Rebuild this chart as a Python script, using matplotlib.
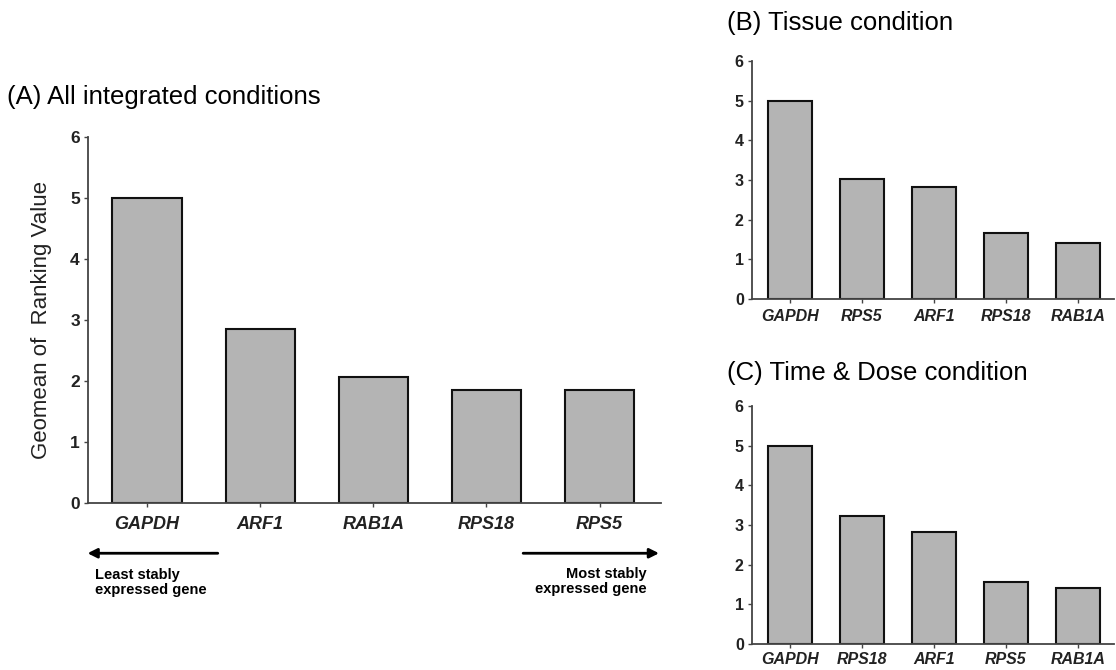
import matplotlib.pyplot as plt

# panel A: all integrated conditions
genes_a = ['GAPDH', 'ARF1', 'RAB1A', 'RPS18', 'RPS5']
vals_a = [5.0, 2.85, 2.07, 1.86, 1.86]

# panel B: tissue condition
genes_b = ['GAPDH', 'RPS5', 'ARF1', 'RPS18', 'RAB1A']
vals_b = [5.0, 3.01, 2.82, 1.67, 1.41]

# panel C: time & dose condition
genes_c = ['GAPDH', 'RPS18', 'ARF1', 'RPS5', 'RAB1A']
vals_c = [5.0, 3.23, 2.82, 1.55, 1.41]

plt.rcParams['font.family'] = ['Liberation Sans', 'DejaVu Sans']

bar_color = '#b4b4b4'
axis_color = '#444444'


def draw_bars(ax, genes, vals, tick_size, label_size, pad):
    x = range(len(genes))
    ax.bar(x, vals, width=0.61, color=bar_color, edgecolor='#111111', linewidth=1.5)
    ax.set_ylim(0, 6)
    ax.set_xlim(-0.52, len(genes) - 0.5)
    ax.set_yticks(range(7))
    ax.set_xticks(list(x))
    ax.set_xticklabels(genes, fontsize=label_size, fontweight='bold', style='italic', color='#222222')
    for lab in ax.get_yticklabels():
        lab.set_fontsize(tick_size)
        lab.set_fontweight('bold')
        lab.set_color('#222222')
    for side in ['top', 'right']:
        ax.spines[side].set_visible(False)
    for side in ['left', 'bottom']:
        ax.spines[side].set_color(axis_color)
        ax.spines[side].set_linewidth(1.3)
    ax.tick_params(axis='both', length=3, width=1, color=axis_color, pad=3)
    ax.tick_params(axis='x', pad=pad)


fig = plt.figure(figsize=(11.16, 6.7), dpi=100)

ax_a = fig.add_axes([0.079, 0.249, 0.513, 0.547])
draw_bars(ax_a, genes_a, vals_a, 12.5, 13, 6)
ax_a.set_xlim(-0.52, 4.54)
ax_a.set_ylabel('Geomean of  Ranking Value', fontsize=16, color='#222222', labelpad=13)
fig.text(0.006, 0.855, '(A) All integrated conditions', fontsize=18.5, va='center')

# stability arrows under panel A
ax_a.annotate('', xy=(-0.55, -0.82), xytext=(0.65, -0.82), xycoords='data',
              arrowprops=dict(arrowstyle='-|>', color='black', lw=2, mutation_scale=14),
              annotation_clip=False)
ax_a.annotate('', xy=(4.55, -0.82), xytext=(3.30, -0.82), xycoords='data',
              arrowprops=dict(arrowstyle='-|>', color='black', lw=2, mutation_scale=14),
              annotation_clip=False)
ax_a.text(-0.46, -1.06, 'Least stably\nexpressed gene', fontsize=10.5, fontweight='bold',
          va='top', ha='left', linespacing=1.1, clip_on=False)
ax_a.text(4.42, -1.05, 'Most stably\nexpressed gene', fontsize=10.5, fontweight='bold',
          va='top', ha='right', multialignment='right', linespacing=1.1, clip_on=False)

ax_b = fig.add_axes([0.674, 0.554, 0.324, 0.355])
draw_bars(ax_b, genes_b, vals_b, 11.5, 11.5, 4)
fig.text(0.651, 0.966, '(B) Tissue condition', fontsize=18.5, va='center')

ax_c = fig.add_axes([0.674, 0.039, 0.324, 0.355])
draw_bars(ax_c, genes_c, vals_c, 11.5, 11.5, 3)
fig.text(0.651, 0.443, '(C) Time & Dose condition', fontsize=18.5, va='center')

fig.savefig('out.png', dpi=100)
